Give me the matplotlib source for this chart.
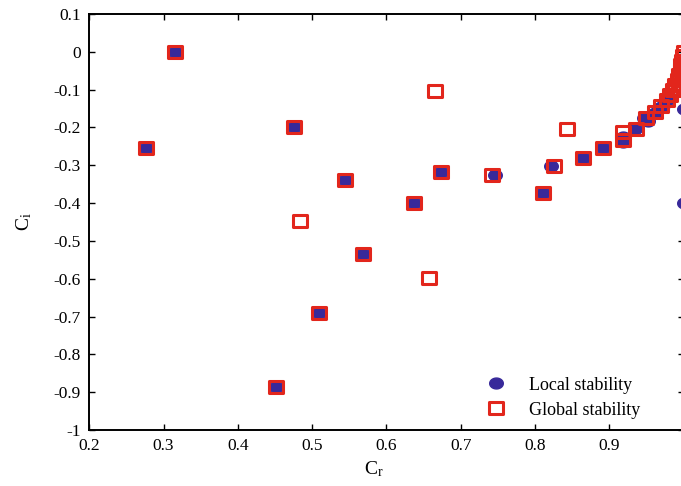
import numpy as np
import matplotlib
matplotlib.use('Agg')
import matplotlib.pyplot as plt
from matplotlib.path import Path

# Eigenvalues C = C_r + i C_i from the two stability analyses
global_cr = [0.276, 0.316, 0.475, 0.483, 0.544, 0.509, 0.451, 0.637, 0.569,
             0.665, 0.657, 0.673, 0.742, 0.843, 0.825, 0.811, 0.864, 0.892,
             0.918, 0.918, 0.936, 0.950, 0.961, 0.969, 0.977, 0.982, 0.986,
             0.989, 0.992, 0.994, 0.996, 0.997, 0.998, 0.999, 1.000]
global_ci = [-0.255, 0.000, -0.198, -0.447, -0.339, -0.690, -0.887, -0.399, -0.535,
             -0.103, -0.598, -0.319, -0.327, -0.203, -0.301, -0.373, -0.280, -0.255,
             -0.212, -0.232, -0.205, -0.176, -0.158, -0.143, -0.128, -0.114, -0.100,
             -0.087, -0.074, -0.060, -0.047, -0.035, -0.023, -0.011, 0.000]

local_cr = [0.276, 0.316, 0.475, 0.544, 0.509, 0.451, 0.637, 0.569, 0.673,
            0.746, 0.822, 0.811, 0.864, 0.892, 0.918, 0.918, 0.935, 0.947,
            0.952, 0.962, 0.969, 0.975, 0.980, 1.000, 1.000]
local_ci = [-0.255, 0.000, -0.198, -0.339, -0.690, -0.887, -0.399, -0.535, -0.319,
            -0.327, -0.301, -0.373, -0.280, -0.255, -0.225, -0.238, -0.205, -0.176,
            -0.182, -0.162, -0.147, -0.135, -0.120, -0.150, -0.400]

x_ticks = [0.2, 0.3, 0.4, 0.5, 0.6, 0.7, 0.8, 0.9]
y_ticks = [0.1, 0, -0.1, -0.2, -0.3, -0.4, -0.5, -0.6, -0.7, -0.8, -0.9, -1]
y_labels = ['0.1', '0', '-0.1', '-0.2', '-0.3', '-0.4', '-0.5',
            '-0.6', '-0.7', '-0.8', '-0.9', '-1']

plt.rcParams['font.family'] = ['Liberation Serif', 'DejaVu Serif']
plt.rcParams['mathtext.fontset'] = 'custom'
plt.rcParams['mathtext.rm'] = 'Liberation Serif'
plt.rcParams['mathtext.it'] = 'Liberation Serif'

blue = '#38299A'
red = '#E2261C'

# slightly wide marker shapes: a flattened dot and a flattened box
t = np.linspace(0, 2 * np.pi, 41)
wide_dot = Path(np.column_stack([1.25 * np.cos(t), np.sin(t)]), closed=True)
wide_box = Path([(-1.13, -1), (1.13, -1), (1.13, 1), (-1.13, 1), (-1.13, -1)],
                closed=True)

fig = plt.figure(figsize=(6.81, 4.86), dpi=100)
ax = fig.add_axes([0.1311, 0.1152, 0.8727, 0.856])

ax.plot(local_cr, local_ci, marker=wide_dot, color=blue, markersize=9.8,
        linestyle='none', label='Local stability', clip_on=False, zorder=3)
ax.plot(global_cr, global_ci, marker=wide_box, markerfacecolor='none',
        markeredgecolor=red, markersize=9.9, markeredgewidth=2.2,
        linestyle='none', label='Global stability', clip_on=False, zorder=4)

ax.set_xlim(0.2, 1.0)
ax.set_ylim(-1, 0.1)
ax.set_xticks(x_ticks)
ax.set_xticklabels([f'{v:g}' for v in x_ticks])
ax.set_yticks(y_ticks)
ax.set_yticklabels(y_labels)

ax.tick_params(direction='in', length=4, width=1, top=True, right=True,
               labelsize=12.5, pad=6)
for side in ax.spines.values():
    side.set_linewidth(1.4)

ax.set_xlabel(r'C$_\mathrm{r}$', fontsize=14, labelpad=3)
ax.xaxis.set_label_coords(0.479, -0.07)
ax.set_ylabel(r'C$_\mathrm{i}$', fontsize=14, labelpad=14)

ax.legend(loc='lower left', bbox_to_anchor=(0.627, -0.012), frameon=False,
          fontsize=13, handletextpad=0.8, labelspacing=0.45, borderpad=0.4)

fig.savefig('out.png', dpi=100)
